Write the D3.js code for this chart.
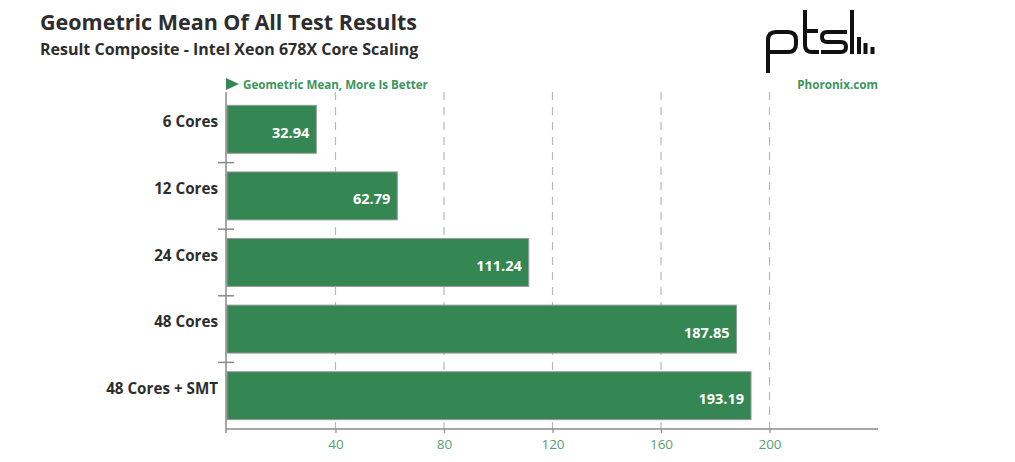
<!DOCTYPE html>
<html>
<head>
<meta charset="utf-8">
<script src="https://cdn.jsdelivr.net/npm/d3@7"></script>
<style>
  body { margin: 0; background: #fff; }
  svg text { font-family: "Open Sans", sans-serif; }
</style>
</head>
<body>
<svg id="chart" width="1015" height="462"></svg>
<script>
// Data
const categories = ['6 Cores', '12 Cores', '24 Cores', '48 Cores', '48 Cores + SMT'];
const values = [32.94, 62.79, 111.24, 187.85, 193.19];
const tick_values = [40, 80, 120, 160, 200];

const title = 'Geometric Mean Of All Test Results';
const subtitle = 'Result Composite - Intel Xeon 678X Core Scaling';
const legend_text = 'Geometric Mean, More Is Better';
const site_text = 'Phoronix.com';

// Render params
const plot_left = 227, plot_right = 878, plot_top = 96, plot_bottom = 429;
const bar_color = '#348752';
const green_text = '#3d955c';
const tick_green = '#5a9f72';

const svg = d3.select('#chart');

const x = d3.scaleLinear()
    .domain([0, 240])
    .range([plot_left, plot_right]);

const y = d3.scaleBand()
    .domain(categories)
    .range([plot_top, plot_bottom])
    .paddingInner(0.28)
    .paddingOuter(0.14);

// Titles
svg.append('text')
    .attr('x', 40).attr('y', 30)
    .attr('font-size', 21.5).attr('font-weight', 700)
    .attr('fill', '#2d2d2d')
    .text(title);

svg.append('text')
    .attr('x', 40).attr('y', 55)
    .attr('font-size', 16).attr('font-weight', 700)
    .attr('fill', '#2d2d2d')
    .text(subtitle);

// Legend
svg.append('path')
    .attr('d', 'M226,78 L239,84 L226,90 Z')
    .attr('fill', bar_color);

svg.append('text')
    .attr('x', 243).attr('y', 88.5)
    .attr('font-size', 11.6).attr('font-weight', 700)
    .attr('fill', green_text)
    .text(legend_text);

svg.append('text')
    .attr('x', plot_right).attr('y', 88.5)
    .attr('text-anchor', 'end')
    .attr('font-size', 11.7).attr('font-weight', 700)
    .attr('fill', green_text)
    .text(site_text);

// Logo
const logo = svg.append('g')
    .attr('fill', 'none')
    .attr('stroke', '#111')
    .attr('stroke-width', 4)
    .attr('stroke-linecap', 'butt');

logo.append('path')
    .attr('d', 'M768,73 L768,40 Q768,32 776,32 L788,32 Q796,32 796,40 L796,44 Q796,52 788,52 L768,52');
logo.append('path')
    .attr('d', 'M805,10 L805,45 Q805,52 812,52 L819,52 M803,31 L818,31');
logo.append('path')
    .attr('d', 'M847,32 L827,32 Q822,32 822,37 Q822,42 827,42 L841,42 Q846,42 846,47 Q846,52 841,52 L821,52');
logo.append('path')
    .attr('d', 'M852,10 L852,54');

const logo_bars = [[859, 37], [865.5, 43], [872.5, 47]];
logo.selectAll('rect.lb')
    .data(logo_bars)
    .join('rect')
    .attr('class', 'lb')
    .attr('x', d => d[0] - 2).attr('y', d => d[1])
    .attr('width', 4).attr('height', d => 54 - d[1])
    .attr('fill', '#111').attr('stroke', 'none');

// Gridlines
svg.append('g')
    .selectAll('line')
    .data(tick_values)
    .join('line')
    .attr('x1', d => x(d)).attr('x2', d => x(d))
    .attr('y1', plot_top - 4).attr('y2', plot_bottom)
    .attr('stroke', '#b8b8b8')
    .attr('stroke-width', 1.2)
    .attr('stroke-dasharray', '8,7');

// Bars
const bars = svg.append('g')
    .selectAll('g.bar')
    .data(categories)
    .join('g')
    .attr('class', 'bar');

bars.append('rect')
    .attr('x', x(0))
    .attr('y', d => y(d))
    .attr('width', (d, i) => x(values[i]) - x(0))
    .attr('height', y.bandwidth())
    .attr('fill', bar_color)
    .attr('stroke', '#9a9a9a')
    .attr('stroke-width', 1);

bars.append('text')
    .attr('x', (d, i) => x(values[i]) - 7)
    .attr('y', d => y(d) + y.bandwidth() / 2 + 8.5)
    .attr('text-anchor', 'end')
    .attr('font-size', 14.5).attr('font-weight', 700)
    .attr('fill', '#fff')
    .text((d, i) => values[i].toFixed(2));

// Category labels
svg.append('g')
    .selectAll('text')
    .data(categories)
    .join('text')
    .attr('x', 218)
    .attr('y', d => y(d) + y.bandwidth() / 2 - 2)
    .attr('text-anchor', 'end')
    .attr('font-size', 15.2).attr('font-weight', 700)
    .attr('fill', '#2d2d2d')
    .text(d => d);

// Y axis line + separators between bands
const half_gap = y.step() * y.paddingInner() / 2;
svg.append('line')
    .attr('x1', plot_left - 1).attr('x2', plot_left - 1)
    .attr('y1', plot_top - 4).attr('y2', plot_bottom + 4)
    .attr('stroke', '#8a8a8a').attr('stroke-width', 1.5);

svg.append('g')
    .selectAll('line')
    .data(categories.slice(1))
    .join('line')
    .attr('x1', plot_left - 9).attr('x2', plot_left + 7)
    .attr('y1', d => y(d) - half_gap).attr('y2', d => y(d) - half_gap)
    .attr('stroke', '#8a8a8a').attr('stroke-width', 1.5);

// X axis
const x_axis = svg.append('g')
    .attr('transform', `translate(0, ${plot_bottom})`)
    .call(d3.axisBottom(x).tickValues(tick_values).tickSize(4).tickPadding(6).tickSizeOuter(0));

x_axis.select('.domain')
    .attr('stroke', '#8a8a8a').attr('stroke-width', 1.5)
    .attr('d', `M${plot_left - 1},0H${plot_right}`);
x_axis.selectAll('.tick line')
    .attr('stroke', '#8a8a8a').attr('stroke-width', 1.2);
x_axis.selectAll('.tick text')
    .attr('font-family', '"Open Sans", sans-serif')
    .attr('font-size', 13.5)
    .attr('fill', tick_green);
</script>
</body>
</html>
